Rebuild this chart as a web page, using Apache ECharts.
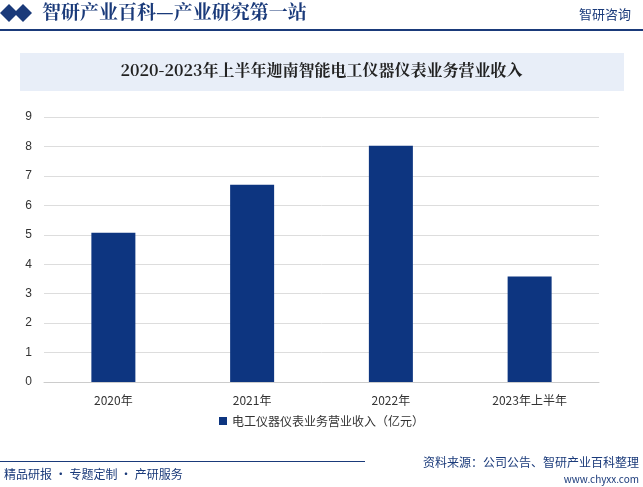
<!DOCTYPE html>
<html>
<head>
<meta charset="UTF-8">
<script src="https://cdn.jsdelivr.net/npm/echarts@6/dist/echarts.min.js"></script>
<style>body{margin:0}#c{width:643px;height:487px}</style>
</head>
<body>
<div id="c"></div>
<script>
var categories = ['2020年', '2021年', '2022年', '2023年上半年'];
var revenue = [5.07, 6.7, 8.02, 3.58];
var seriesName = '电工仪器仪表业务营业收入（亿元）';
var font = '"Noto Sans CJK SC", sans-serif';

var chart = echarts.init(document.getElementById('c'));
chart.setOption({
    backgroundColor: '#fff',
    graphic: [
        { type: 'polygon', shape: { points: [[0, 13], [9, 4], [18, 13], [9, 22]] }, style: { fill: '#1a3a7a' } },
        { type: 'polygon', shape: { points: [[14, 13], [23, 4], [32, 13], [23, 22]] }, style: { fill: '#1a3a7a' } },
        { type: 'text', left: 42, top: 2, style: { text: '智研产业百科—产业研究第一站', fill: '#1a3a7a', font: 'bold 19px "Noto Serif CJK SC", ' + font } },
        { type: 'text', right: 12, top: 8, style: { text: '智研咨询', fill: '#1a3a7a', font: '13px ' + font } },
        { type: 'rect', left: 0, top: 29, shape: { width: 643, height: 2 }, style: { fill: '#1a3a7a' } },
        { type: 'rect', left: 20, top: 53, shape: { width: 604, height: 38 }, style: { fill: '#e8eef8' } },
        { type: 'text', left: 'center', top: 62, style: { text: '2020-2023年上半年迦南智能电工仪器仪表业务营业收入', fill: '#222', font: 'bold 16px "Noto Serif CJK SC", ' + font } },
        { type: 'rect', left: 0, top: 461, shape: { width: 365, height: 1 }, style: { fill: '#1a3a7a' } },
        { type: 'text', left: 4, top: 468, style: { text: '精品研报 · 专题定制 · 产研服务', fill: '#1a3a7a', font: '12px ' + font } },
        { type: 'text', right: 4, top: 456, style: { text: '资料来源：公司公告、智研产业百科整理', fill: '#1a3a7a', font: '12px ' + font } },
        { type: 'text', right: 4, top: 474, style: { text: 'www.chyxx.com', fill: '#1a3a7a', font: '10px ' + font } }
    ],
    grid: { left: 44, right: 44, top: 117, bottom: 105 },
    legend: {
        bottom: 55, itemWidth: 8, itemHeight: 8, icon: 'rect',
        textStyle: { fontSize: 12, color: '#333', fontFamily: font },
        data: [seriesName]
    },
    xAxis: {
        type: 'category', data: categories,
        axisTick: { show: false },
        axisLine: { lineStyle: { color: '#ccc' } },
        axisLabel: { color: '#333', fontSize: 12, fontFamily: font, margin: 12 }
    },
    yAxis: {
        type: 'value', min: 0, max: 9, interval: 1,
        axisLabel: { color: '#333', fontSize: 12, margin: 12 },
        splitLine: { lineStyle: { color: '#ddd' } }
    },
    series: [{
        name: seriesName, type: 'bar', data: revenue, barWidth: 44,
        itemStyle: { color: '#0d3580' }
    }]
});
</script>
</body>
</html>
